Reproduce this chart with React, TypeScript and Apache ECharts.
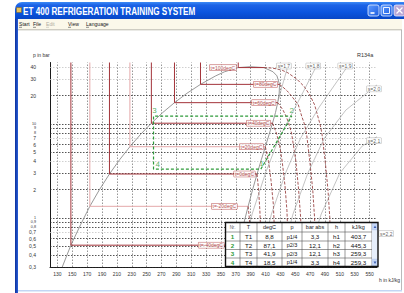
import React, { useEffect, useRef } from 'react';
import * as echarts from 'echarts';

// ---------- axis ticks ----------
const hTicks = [130, 150, 170, 190, 210, 230, 250, 270, 290, 310, 330, 350, 370, 390, 410, 430, 450, 470, 490, 510, 530, 550];
const pTicks = [40, 30, 20, 10, 9, 8, 7, 6, 5, 4, 3, 2, 1, 0.9, 0.8, 0.7, 0.6, 0.5, 0.4, 0.3];
const pTicksLight = [40, 30, 7, 4, 0.7];
const pTicksCrowded = [10, 9, 8, 1, 0.9, 0.8];

// ---------- saturation (R134a) ----------
const satT = [-50, -40, -30, -20, -10, 0, 10, 20, 30, 40, 50, 60, 70, 80, 90, 95, 100, 101.06];
const satP = [0.3, 0.512, 0.844, 1.327, 2.006, 2.928, 4.146, 5.717, 7.702, 10.166, 13.179, 16.818, 21.168, 26.332, 32.442, 35.9, 39.724, 40.59];
const satHf = [136.5, 148.1, 161.1, 173.6, 186.7, 200.0, 213.6, 227.5, 241.7, 256.4, 271.6, 287.5, 304.3, 322.5, 343.0, 355.0, 373.3, 389.6];
const satHg = [368.5, 374.3, 380.3, 386.6, 392.7, 398.6, 404.3, 409.8, 414.8, 419.4, 423.4, 426.4, 428.4, 428.8, 425.4, 420.0, 407.8, 389.6];

// ---------- isotherms ----------
const isoT = [-40, -20, 0, 20, 40, 60, 80, 100];
const isoLight = [-20, 20];
const vapM40 = [[374.3, 0.512], [375.0, 0.4], [375.6, 0.3]];
const vapM20 = [[386.6, 1.327], [388.2, 1.0], [389.8, 0.6], [390.6, 0.3]];
const vap0 = [[398.6, 2.928], [400.6, 2.0], [402.4, 1.2], [403.8, 0.6], [404.5, 0.3]];
const vap20 = [[409.8, 5.717], [414.0, 4.0], [417.4, 2.5], [420.5, 1.4], [422.5, 0.6], [423.2, 0.3]];
const vap40 = [[419.4, 10.166], [424.6, 8.0], [428.8, 6.0], [432.4, 4.0], [436.2, 2.2], [438.8, 1.2], [440.6, 0.5], [441.1, 0.3]];
const vap60 = [[426.4, 16.818], [428.7, 16], [433.6, 14], [437.8, 12], [441.5, 10], [445.0, 8], [450.9, 4], [454.5, 2], [457.3, 1], [459.0, 0.3]];
const vap80 = [[428.8, 26.332], [432.5, 25], [439.0, 22.5], [444.5, 20], [454.1, 16], [458.8, 12], [462.3, 10], [465.1, 8], [469.6, 4], [473.5, 2], [476.0, 1], [477.5, 0.3]];
const vap100 = [[407.8, 39.724], [418, 39.3], [425, 38.5], [433, 37], [440, 35], [452, 30], [462, 25], [470, 20], [476, 16], [483.2, 10], [485.8, 8], [490.3, 4], [494, 2], [496.5, 1], [498, 0.3]];
const isoVapor = [vapM40, vapM20, vap0, vap20, vap40, vap60, vap80, vap100];

// ---------- isentropes ----------
const sLabels = ['s=1,7', 's=1,8', 's=1,9', 's=2,0', 's=2,1', 's=2,2'];
const s17 = [[427, 17.6], [434, 28], [441.5, 45]];
const s18 = [[375, 0.3], [392, 1.1], [410, 3.0], [428, 7], [450, 15], [481, 45]];
const s19 = [[399.5, 0.3], [418, 1.1], [437, 3], [457, 7], [482, 15], [524, 45]];
const s20 = [[428, 0.3], [447, 1.1], [467, 3], [489, 7], [518, 14], [560, 26]];
const s21 = [[462, 0.3], [485, 1.1], [510, 3.0], [540, 5.8], [560, 7.3]];
const s22 = [[500, 0.3], [530, 0.5], [560, 0.68]];
const isentropes = [s17, s18, s19, s20, s21, s22];

// ---------- cycle / table ----------
const cycleNo = [1, 2, 3, 4];
const cycleTName = ['T1', 'T2', 'T3', 'T4'];
const cycleT = [8.8, 87.1, 41.9, 18.5];
const cyclePName = ['p1/4', 'p2/3', 'p2/3', 'p1/4'];
const cycleP = [3.3, 12.1, 12.1, 3.3];
const cycleHName = ['h1', 'h2', 'h3', 'h4'];
const cycleH = [403.7, 445.3, 259.3, 259.3];
const tableHeader = ['Nr.', 'T', 'degC', 'p', 'bar abs', 'h', 'kJ/kg'];

const menuItems = ['Start', 'File', 'Edit', 'View', 'Language'];
const titleText = 'ET 400 REFRIGERATION TRAINING SYSTEM';

const fmt = (v: number) => String(v).replace('.', ',');
const fmt1 = (v: number) => v.toFixed(1).replace('.', ',');

const FONT = 'Liberation Sans';
const GREEN = '#2e9b3a';
const RED_D = '#a3343a';
const RED_L = '#e5a9aa';

function buildOption() {
  const series: any[] = [];

  // grid lines + tick labels
  const mark: any[] = [];
  hTicks.forEach((h) => {
    mark.push({
      xAxis: h,
      lineStyle: { color: '#6a6a6a', width: 0.7, type: [1.5, 1.5] },
      label: { show: true, position: 'start', formatter: String(h), distance: 4, fontSize: 5, color: '#333', fontFamily: FONT },
    });
  });
  pTicks.forEach((p) => {
    const light = pTicksLight.includes(p);
    const crowded = pTicksCrowded.includes(p);
    mark.push({
      yAxis: p,
      lineStyle: { color: light ? '#c4c4c4' : '#2a2a2a', width: 0.8, type: [1.5, 1.5] },
      label: {
        show: true, position: 'start', formatter: fmt(p), distance: 14,
        fontSize: crowded ? 3.7 : 5, lineHeight: crowded ? 3.7 : 5, color: '#333', fontFamily: FONT,
      },
    });
  });
  series.push({
    type: 'line',
    data: [[120, 0.3]],
    showSymbol: false,
    lineStyle: { opacity: 0 },
    silent: true,
    z: 1,
    markLine: { silent: true, z: 1, symbol: ['none', 'none'], animation: false, data: mark },
  });

  // saturated liquid & vapour
  series.push({
    type: 'line', symbol: 'none', silent: true, z: 3,
    data: satT.map((_, i) => [satHf[i], satP[i]]),
    lineStyle: { color: '#8c8c8c', width: 0.9 },
  });
  series.push({
    type: 'line', symbol: 'none', silent: true, z: 3,
    data: satT.map((_, i) => [satHg[i], satP[i]]),
    lineStyle: { color: '#8c8c8c', width: 0.9 },
  });

  // isotherms
  isoT.forEach((T, k) => {
    const i = satT.indexOf(T);
    const col = isoLight.includes(T) ? RED_L : RED_D;
    series.push({
      type: 'line', symbol: 'none', silent: true, z: 3,
      data: [[satHf[i], 45], [satHf[i], satP[i]], [satHg[i], satP[i]]],
      lineStyle: { color: col, width: 1 },
    });
    series.push({
      type: 'line', symbol: 'none', silent: true, z: 3,
      data: isoVapor[k],
      lineStyle: { color: '#8e2d2d', width: 0.8, type: [3, 1.6] },
    });
  });

  // isentropes
  isentropes.forEach((pts) => {
    series.push({
      type: 'line', symbol: 'none', silent: true, z: 3,
      data: pts,
      lineStyle: { color: '#9a9a9a', width: 0.6 },
    });
  });

  // cycle
  const order = [0, 1, 2, 3, 0];
  series.push({
    type: 'line', symbol: 'none', silent: true, z: 5,
    data: order.map((i) => [cycleH[i], cycleP[i]]),
    lineStyle: { color: GREEN, width: 1.2, type: [3, 2] },
  });

  // labels
  const labelItems: any[] = [];
  const isoDist: Record<number, number> = { [-40]: 15, [-20]: 11 };
  isoT.forEach((T) => {
    const i = satT.indexOf(T);
    labelItems.push({
      value: [T === 100 ? satHf[i] : satHg[i], satP[i]],
      label: {
        show: true, position: 'left', distance: isoDist[T] ?? 2,
        formatter: `t=${T}degC`, fontSize: 5, color: '#a02020', fontFamily: FONT,
        backgroundColor: '#fff', borderColor: '#b54848', borderWidth: 0.5, padding: [0.5, 1, 0, 1],
      },
    });
  });
  isentropes.forEach((pts, k) => {
    const last = pts[pts.length - 1];
    const top = k < 3;
    const lbl: any = {
      show: true, formatter: sLabels[k], fontSize: 5, color: '#333', fontFamily: FONT,
      backgroundColor: '#fff', borderColor: '#999', borderWidth: 0.4, padding: [0.5, 1, 0, 1],
    };
    if (top) { lbl.position = 'inside'; lbl.offset = [-5, 3.5]; }
    else if (k < 5) { lbl.position = 'inside'; lbl.offset = [-3, 4]; }
    else { lbl.position = 'right'; lbl.distance = 2; lbl.offset = [0, 0]; }
    labelItems.push({ value: last, label: lbl });
  });
  const cyclePos: any[] = [['top', [1, 0]], ['top', [0, 0]], ['top', [1, 0]], ['right', [0, -5]]];
  cycleNo.forEach((n, i) => {
    labelItems.push({
      value: [cycleH[i], cycleP[i]],
      label: {
        show: true, position: cyclePos[i][0], offset: cyclePos[i][1], distance: 2,
        formatter: String(n), fontSize: 8, color: GREEN, fontFamily: FONT,
      },
    });
  });
  series.push({
    type: 'scatter', symbolSize: 0.1, silent: true, z: 7,
    itemStyle: { color: 'transparent' },
    data: labelItems,
  });

  // ---------- graphic: window chrome, names, table ----------
  const g: any[] = [];
  // title bar
  g.push({
    type: 'rect', z: 50, shape: { x: 15, y: 2, width: 389, height: 17, r: [7, 0, 0, 0] },
    style: {
      fill: new echarts.graphic.LinearGradient(0, 0, 0, 1, [
        { offset: 0, color: '#3c8bf6' }, { offset: 0.18, color: '#1d63e6' },
        { offset: 0.6, color: '#0b55df' }, { offset: 1, color: '#0847c6' },
      ]),
    },
  });
  g.push({ type: 'rect', z: 51, shape: { x: 16.5, y: 7.5, width: 5, height: 5 }, style: { fill: '#e8c25a', stroke: '#7a5a20', lineWidth: 0.5 } });
  g.push({
    type: 'text', z: 52, x: 23, y: 11, scaleX: 0.74,
    style: { text: titleText, fill: '#ffffff', fontSize: 11, fontWeight: 'bold', fontFamily: FONT, align: 'left', verticalAlign: 'middle' },
  });
  // buttons
  const btnFill = new echarts.graphic.LinearGradient(0, 0, 1, 1, [{ offset: 0, color: '#5d9bff' }, { offset: 1, color: '#1c5ce0' }]);
  g.push({ type: 'rect', z: 52, shape: { x: 368, y: 5, width: 11, height: 11, r: 2 }, style: { fill: btnFill, stroke: '#eaf1ff', lineWidth: 0.8 } });
  g.push({ type: 'line', z: 53, shape: { x1: 370.5, y1: 13, x2: 374.5, y2: 13 }, style: { stroke: '#fff', lineWidth: 1.6 } });
  g.push({ type: 'rect', z: 52, shape: { x: 381, y: 5, width: 11, height: 11, r: 2 }, style: { fill: btnFill, stroke: '#eaf1ff', lineWidth: 0.8 } });
  g.push({ type: 'rect', z: 53, shape: { x: 383.5, y: 7.5, width: 6, height: 6 }, style: { fill: 'none', stroke: '#fff', lineWidth: 0.9 } });
  g.push({ type: 'rect', z: 52, shape: { x: 394, y: 5, width: 11, height: 11, r: 2 }, style: { fill: '#b9a6d6', stroke: '#eaf1ff', lineWidth: 0.8 } });
  g.push({ type: 'line', z: 53, shape: { x1: 396.5, y1: 7.5, x2: 402.5, y2: 13.5 }, style: { stroke: '#fff', lineWidth: 1.2 } });
  g.push({ type: 'line', z: 53, shape: { x1: 402.5, y1: 7.5, x2: 396.5, y2: 13.5 }, style: { stroke: '#fff', lineWidth: 1.2 } });
  // menu bar
  g.push({ type: 'rect', z: 50, shape: { x: 18, y: 19, width: 384, height: 10.5 }, style: { fill: '#fbf8ea' } });
  g.push({ type: 'line', z: 50, shape: { x1: 18, y1: 29.8, x2: 402, y2: 29.8 }, style: { stroke: '#aaa79a', lineWidth: 0.8 } });
  const menuX = [19, 33, 46, 68, 86];
  menuItems.forEach((m, i) => {
    const c = m === 'Edit' ? '#b0aea4' : '#222';
    g.push({
      type: 'text', z: 51, x: menuX[i], y: 24, scaleX: 0.85,
      style: { text: m, fill: c, fontSize: 6, fontFamily: FONT, align: 'left', verticalAlign: 'middle' },
    });
    g.push({ type: 'line', z: 51, shape: { x1: menuX[i], y1: 27.3, x2: menuX[i] + 3, y2: 27.3 }, style: { stroke: c, lineWidth: 0.5 } });
  });
  // borders
  g.push({
    type: 'rect', z: 50, shape: { x: 15, y: 19, width: 3, height: 274 },
    style: { fill: new echarts.graphic.LinearGradient(0, 0, 1, 0, [{ offset: 0, color: '#0b2f9a' }, { offset: 1, color: '#2a5fd8' }]) },
  });
  g.push({ type: 'line', z: 50, shape: { x1: 401.5, y1: 30, x2: 401.5, y2: 290 }, style: { stroke: '#a8a8a8', lineWidth: 0.8 } });
  g.push({ type: 'rect', z: 50, shape: { x: 18, y: 290, width: 384, height: 1.6 }, style: { fill: '#c3d6f4' } });

  // axis names
  g.push({ type: 'text', z: 20, x: 33, y: 55, style: { text: 'p in bar', fill: '#333', fontSize: 5, fontFamily: FONT, align: 'left', verticalAlign: 'middle' } });
  g.push({ type: 'text', z: 20, x: 357, y: 55, style: { text: 'R134a', fill: '#333', fontSize: 5.5, fontFamily: FONT, align: 'left', verticalAlign: 'middle' } });
  g.push({ type: 'text', z: 20, x: 379, y: 280, style: { text: 'h in kJ/kg', fill: '#333', fontSize: 5, fontFamily: FONT, align: 'left', verticalAlign: 'middle' } });

  // table
  const tx0 = 225.5, tx1 = 378, ty0 = 222.5, ty1 = 266.5;
  const colX = [240, 257, 282, 302, 328, 345, 372];
  const rowY = [232, 241, 249.5, 258];
  const colC = [232.5, 248.5, 269.5, 292, 315, 336.5, 358.5];
  const rowC = [227.3, 236.6, 245.3, 253.8, 262.3];
  g.push({ type: 'rect', z: 100, shape: { x: tx0, y: ty0, width: tx1 - tx0, height: ty1 - ty0 }, style: { fill: '#fff', stroke: 'none' } });
  colX.forEach((x) => g.push({ type: 'line', z: 101, shape: { x1: x, y1: ty0, x2: x, y2: ty1 }, style: { stroke: '#555', lineWidth: 0.6 } }));
  rowY.forEach((y) => g.push({ type: 'line', z: 101, shape: { x1: tx0, y1: y, x2: 372, y2: y }, style: { stroke: '#555', lineWidth: 0.6 } }));
  // scrollbar
  g.push({ type: 'rect', z: 101, shape: { x: 372, y: ty0, width: 6, height: ty1 - ty0 }, style: { fill: '#e6eefb' } });
  g.push({ type: 'rect', z: 102, shape: { x: 372.3, y: ty0 + 0.3, width: 5.4, height: 7 }, style: { fill: '#c6d8f8', stroke: '#9ab4e8', lineWidth: 0.4 } });
  g.push({ type: 'rect', z: 102, shape: { x: 372.3, y: ty1 - 7.3, width: 5.4, height: 7 }, style: { fill: '#c6d8f8', stroke: '#9ab4e8', lineWidth: 0.4 } });
  g.push({ type: 'polygon', z: 103, shape: { points: [[373.6, 228], [376.4, 228], [375, 225.6]] }, style: { fill: '#3a5cb0' } });
  g.push({ type: 'polygon', z: 103, shape: { points: [[373.6, 261.6], [376.4, 261.6], [375, 264]] }, style: { fill: '#3a5cb0' } });
  g.push({ type: 'rect', z: 104, shape: { x: tx0, y: ty0, width: tx1 - tx0, height: ty1 - ty0 }, style: { fill: 'none', stroke: '#111', lineWidth: 1.4 } });
  tableHeader.forEach((h, c) => {
    g.push({
      type: 'text', z: 105, x: colC[c], y: rowC[0],
      style: { text: h, fill: c === 0 ? '#666' : '#222', fontSize: c === 0 ? 4.5 : 5.5, fontFamily: FONT, align: 'center', verticalAlign: 'middle' },
    });
  });
  cycleNo.forEach((n, r) => {
    const cells = [String(n), cycleTName[r], fmt1(cycleT[r]), cyclePName[r], fmt1(cycleP[r]), cycleHName[r], fmt1(cycleH[r])];
    cells.forEach((t, c) => {
      g.push({
        type: 'text', z: 105, x: colC[c], y: rowC[r + 1],
        style: {
          text: t, fill: c === 0 ? GREEN : '#111', fontSize: c === 3 ? 5.5 : 6.2,
          fontWeight: c === 0 ? 'bold' : 'normal', fontFamily: FONT, align: 'center', verticalAlign: 'middle',
        },
      });
    });
  });

  return {
    animation: false,
    grid: { left: 50, top: 62.5, width: 327, height: 204.5, containLabel: false },
    xAxis: {
      type: 'value', min: 120, max: 560,
      axisLine: { show: true, lineStyle: { color: '#1a1a1a', width: 1 } },
      axisTick: { show: false }, axisLabel: { show: false }, splitLine: { show: false },
    },
    yAxis: {
      type: 'log', logBase: 10, min: 0.3, max: 45,
      axisLine: { show: true, lineStyle: { color: '#1a1a1a', width: 1 } },
      axisTick: { show: false }, axisLabel: { show: false }, splitLine: { show: false },
    },
    graphic: { elements: g },
    series,
  };
}

export default function App() {
  const ref = useRef<HTMLDivElement>(null);
  useEffect(() => {
    if (!ref.current) return;
    const chart = echarts.init(ref.current, undefined, { renderer: 'svg' });
    chart.setOption(buildOption() as any);
    return () => chart.dispose();
  }, []);
  return <div ref={ref} style={{ position: 'fixed', left: 0, top: 0, width: 404, height: 293, background: '#fff' }} />;
}
